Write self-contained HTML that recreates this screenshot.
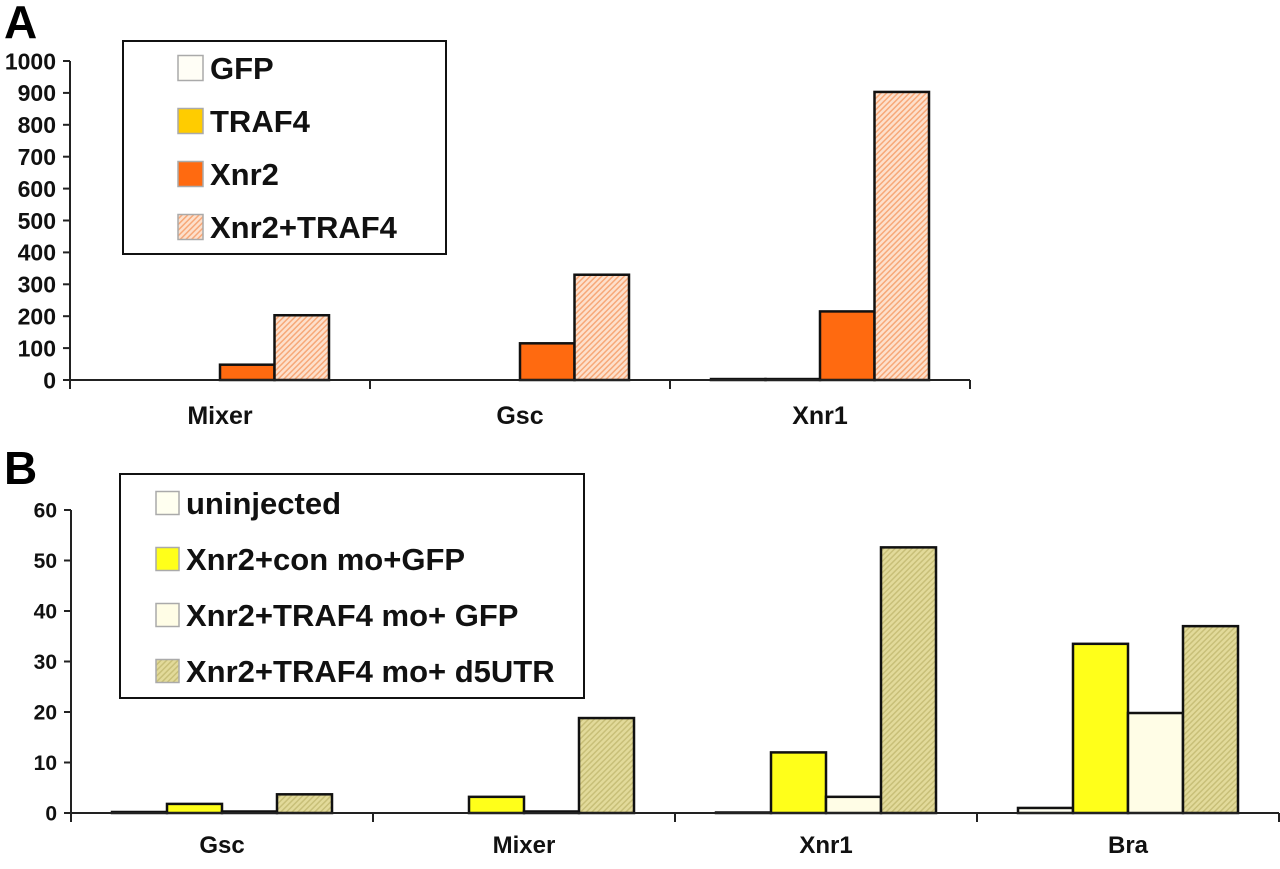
<!DOCTYPE html>
<html><head><meta charset="utf-8"><style>
body{margin:0;background:#fff;}
svg{display:block;font-family:"Liberation Sans",Arial,sans-serif;font-weight:bold;}
</style></head><body>
<svg id="fig" width="1280" height="869" viewBox="0 0 1280 869">
<defs>
<pattern id="hatchA" width="4" height="4" patternUnits="userSpaceOnUse" patternTransform="rotate(45)">
<rect width="4" height="4" fill="#fde0cc"/><rect width="1.5" height="4" fill="#f7a878"/></pattern>
<pattern id="hatchB" width="4" height="4" patternUnits="userSpaceOnUse" patternTransform="rotate(45)">
<rect width="4" height="4" fill="#e2da9a"/><rect width="1.5" height="4" fill="#c8bf78"/></pattern>
</defs>
<text x="4" y="38" font-size="46">A</text>
<text x="4" y="484" font-size="46">B</text>
<g id="chartA"></g>
<g id="chartB"></g>
</svg>
<script>
const catsA = ["Mixer","Gsc","Xnr1"];
const seriesA = ["GFP","TRAF4","Xnr2","Xnr2+TRAF4"];
const gfpA = [0,0,3];
const traf4A = [0,0,3];
const xnr2A = [48,115,215];
const xnr2traf4A = [203,330,903];
const ticksA = [0,100,200,300,400,500,600,700,800,900,1000];

const catsB = ["Gsc","Mixer","Xnr1","Bra"];
const seriesB = ["uninjected","Xnr2+con mo+GFP","Xnr2+TRAF4 mo+ GFP","Xnr2+TRAF4 mo+ d5UTR"];
const uninjB = [0.2,0,0.1,1];
const conB = [1.8,3.2,12,33.5];
const traf4moB = [0.3,0.3,3.2,19.8];
const d5utrB = [3.7,18.8,52.6,37];
const ticksB = [0,10,20,30,40,50,60];

const NS="http://www.w3.org/2000/svg";
function mk(parent,tag,attrs){const e=document.createElementNS(NS,tag);for(const k in attrs)e.setAttribute(k,attrs[k]);parent.appendChild(e);return e;}

function draw(g,o){
  const yS=v=>o.y0-(v-o.min)/(o.max-o.min)*(o.y0-o.y1);
  const band=o.band;
  const xS=i=>o.x0+i*band;
  o.series.forEach((vals,s)=>{
    vals.forEach((v,i)=>{
      const x=xS(i)+(band-o.bw*4)/2+s*o.bw;
      const r=mk(g,'rect',{x:x,y:yS(v),width:o.bw,height:Math.max(0,o.y0-yS(v)),fill:o.fills[s],stroke:'#111','stroke-width':2.5});
      
      
    });
  });
  const ya=mk(g,'line',{x1:o.x0,y1:o.y1,x2:o.x0,y2:o.y0,stroke:'#222','stroke-width':2});
  
  
  const xa=mk(g,'line',{x1:o.x0,y1:o.y0,x2:xS(o.cats.length),y2:o.y0,stroke:'#222','stroke-width':2});
  
  
  o.ticks.forEach(t=>{
    mk(g,'line',{x1:o.x0-7,y1:yS(t),x2:o.x0,y2:yS(t),stroke:'#222','stroke-width':2});
    const tx=mk(g,'text',{x:o.x0-14,y:yS(t)+o.tfs*0.36,'font-size':o.tfs,'text-anchor':'end',fill:'#111'});
    tx.textContent=t;
    
    
  });
  for(let i=0;i<=o.cats.length;i++){
    mk(g,'line',{x1:xS(i),y1:o.y0,x2:xS(i),y2:o.y0+9,stroke:'#222','stroke-width':2});
  }
  o.cats.forEach((c,i)=>{
    const tx=mk(g,'text',{x:xS(i)+band/2,y:o.labY,'font-size':o.lfs,'text-anchor':'middle',fill:'#111'});
    tx.textContent=c;
    
    
  });
  const L=o.leg;
  const lb=mk(g,'rect',{x:L.x,y:L.y,width:L.w,height:L.h,fill:'#fff',stroke:'#111','stroke-width':2});
  
  
  o.names.forEach((n,s)=>{
    const yy=L.y+L.first+s*L.step;
    const sw=mk(g,'rect',{x:L.sx,y:yy-L.ss/2,width:L.ss,height:L.ss,fill:o.fills[s],stroke:'#aaa','stroke-width':1.5});
    
    
    const tx=mk(g,'text',{x:L.sx+L.ss+7,y:yy+L.fs*0.36,'font-size':L.fs,fill:'#111'});
    tx.textContent=n;
    
    
  });
}

draw(document.getElementById('chartA'),{
  cats:catsA,names:seriesA,series:[gfpA,traf4A,xnr2A,xnr2traf4A],keys:['gfp','traf4','xnr2','xnr2-traf4'],
  fills:['#fffef6','#ffcc00','#ff6a10','url(#hatchA)'],
  min:0,max:1000,ticks:ticksA,x0:70,band:300,y0:380,y1:61,bw:54.5,tfs:23,lfs:25,labY:424,
  leg:{x:123,y:41,w:323,h:213,sx:178,ss:25,first:27,step:53,fs:31}
});
draw(document.getElementById('chartB'),{
  cats:catsB,names:seriesB,series:[uninjB,conB,traf4moB,d5utrB],keys:['uninjected','con-mo','traf4-mo-gfp','traf4-mo-d5utr'],
  fills:['#fffff0','#ffff1a','#fffde6','url(#hatchB)'],
  min:0,max:60,ticks:ticksB,x0:71,band:302,y0:813,y1:510,bw:55,tfs:21,lfs:24,labY:853,
  leg:{x:120,y:474,w:464,h:224,sx:156,ss:23,first:29,step:56,fs:31}
});
</script>
</body></html>
